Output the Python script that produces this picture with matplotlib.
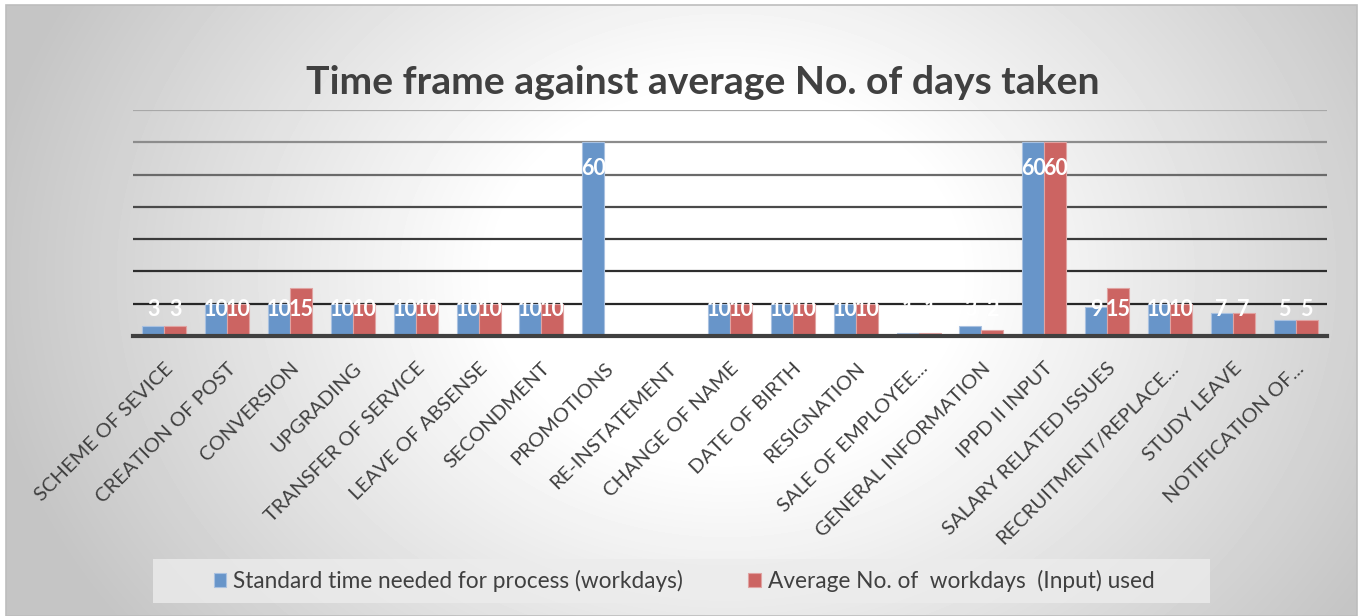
import numpy as np
import matplotlib
matplotlib.use("Agg")
import matplotlib.pyplot as plt
from matplotlib.patches import Rectangle

plt.rcParams["font.family"] = ["Lato", "DejaVu Sans"]

CATEGORIES = [
    "SCHEME OF SEVICE", "CREATION OF POST", "CONVERSION", "UPGRADING",
    "TRANSFER OF SERVICE", "LEAVE OF ABSENSE", "SECONDMENT", "PROMOTIONS",
    "RE-INSTATEMENT", "CHANGE OF NAME", "DATE OF BIRTH", "RESIGNATION",
    "SALE OF EMPLOYEE...", "GENERAL INFORMATION", "IPPD II INPUT",
    "SALARY RELATED ISSUES", "RECRUITMENT/REPLACE...", "STUDY LEAVE",
    "NOTIFICATION OF...",
]
STANDARD = [3, 10, 10, 10, 10, 10, 10, 60, np.nan, 10, 10, 10, 1, 3, 60, 9, 10, 7, 5]
AVERAGE = [3, 10, 15, 10, 10, 10, 10, np.nan, np.nan, 10, 10, 10, 1, 2, 60, 15, 10, 7, 5]
SERIES_NAMES = ["Standard time needed for process (workdays)",
                "Average No. of  workdays  (Input) used"]
TITLE = "Time frame against average No. of days taken"
GRID_VALUES = [10, 20, 30, 40, 50, 60, 70]

BLUE = "#6895C9"
RED = "#CC6462"
# gridlines fade out towards the top of the plot
GRID_COLORS = ["#262626", "#2e2e2e", "#3a3a3a", "#4a4a4a", "#6a6a6a", "#8c8c8c", "#a8a8a8"]
W, H = 1360, 616

fig = plt.figure(figsize=(W / 100, H / 100), dpi=100)
fig.patch.set_facecolor("white")

# radial grey gradient background
bg = fig.add_axes([6 / W, 0, 1351 / W, 611 / H], zorder=-10)
yy, xx = np.mgrid[0:611, 0:1351]
r = np.hypot((xx - 720) * 1.0, (yy - 270) * 1.25)
shade = 1 - 0.23 * np.clip((r - 230) / 520, 0, 1)
bg.imshow(shade, cmap="gray", vmin=0, vmax=1, aspect="auto", interpolation="bilinear")
bg.set_axis_off()
fig.patches.append(Rectangle((6 / W, 0), 1351 / W, 611 / H, transform=fig.transFigure,
                             fill=False, edgecolor="#bdbdbd", lw=1.2))

ax = fig.add_axes([133 / W, 1 - 336 / H, (1327 - 133) / W, (336 - 110) / H])
ax.set_facecolor("none")
x = np.arange(len(CATEGORIES))
bw = 0.35
b1 = ax.bar(x - bw / 2, STANDARD, bw, color=BLUE, edgecolor="#a9c1e0", lw=0.8, zorder=3)
b2 = ax.bar(x + bw / 2, AVERAGE, bw, color=RED, edgecolor="#e0a3a2", lw=0.8, zorder=3)

for vals, off in [(STANDARD, -bw / 2), (AVERAGE, bw / 2)]:
    for i, v in enumerate(vals):
        if np.isnan(v):
            continue
        ly = v - 8 if v > 20 else 8.2
        ax.text(i + off, ly, f"{v:g}", ha="center", va="center", color="white",
                fontsize=15.5, fontweight="bold", zorder=5)

for gv, gc in zip(GRID_VALUES, GRID_COLORS):
    ax.axhline(gv, color=gc, lw=1.6, zorder=1)

ax.set_xlim(-0.5, len(CATEGORIES) - 0.5)
ax.set_ylim(0, 70)
ax.set_yticks([])
ax.tick_params(axis="x", length=0, pad=17)
ax.set_xticks(x)
ax.set_xticklabels(CATEGORIES, rotation=45, ha="right", rotation_mode="anchor",
                   fontsize=14.5, color="#404040")
for s in ["top", "left", "right"]:
    ax.spines[s].set_visible(False)
ax.spines["bottom"].set_color("#404040")
ax.spines["bottom"].set_linewidth(3)
ax.spines["bottom"].set_zorder(4)

fig.text(0.5 * (305 + 1100) / W, 1 - 82 / H, TITLE, ha="center", va="center",
         fontsize=28.2, fontweight="bold", color="#404040")

# legend box
fig.patches.append(Rectangle((153 / W, 1 - 603 / H), (1210 - 153) / W, 44 / H,
                             transform=fig.transFigure, facecolor="#ececec",
                             edgecolor="none", alpha=0.8, zorder=1))
fig.legend([b1, b2], SERIES_NAMES, loc="center", bbox_to_anchor=(684 / W, 1 - 581 / H),
           ncol=2, frameon=False, fontsize=16.3, handlelength=0.55, handleheight=0.55,
           handletextpad=0.3, columnspacing=2.9, labelcolor="#404040")

fig.savefig("out.png", dpi=100)
plt.close(fig)
